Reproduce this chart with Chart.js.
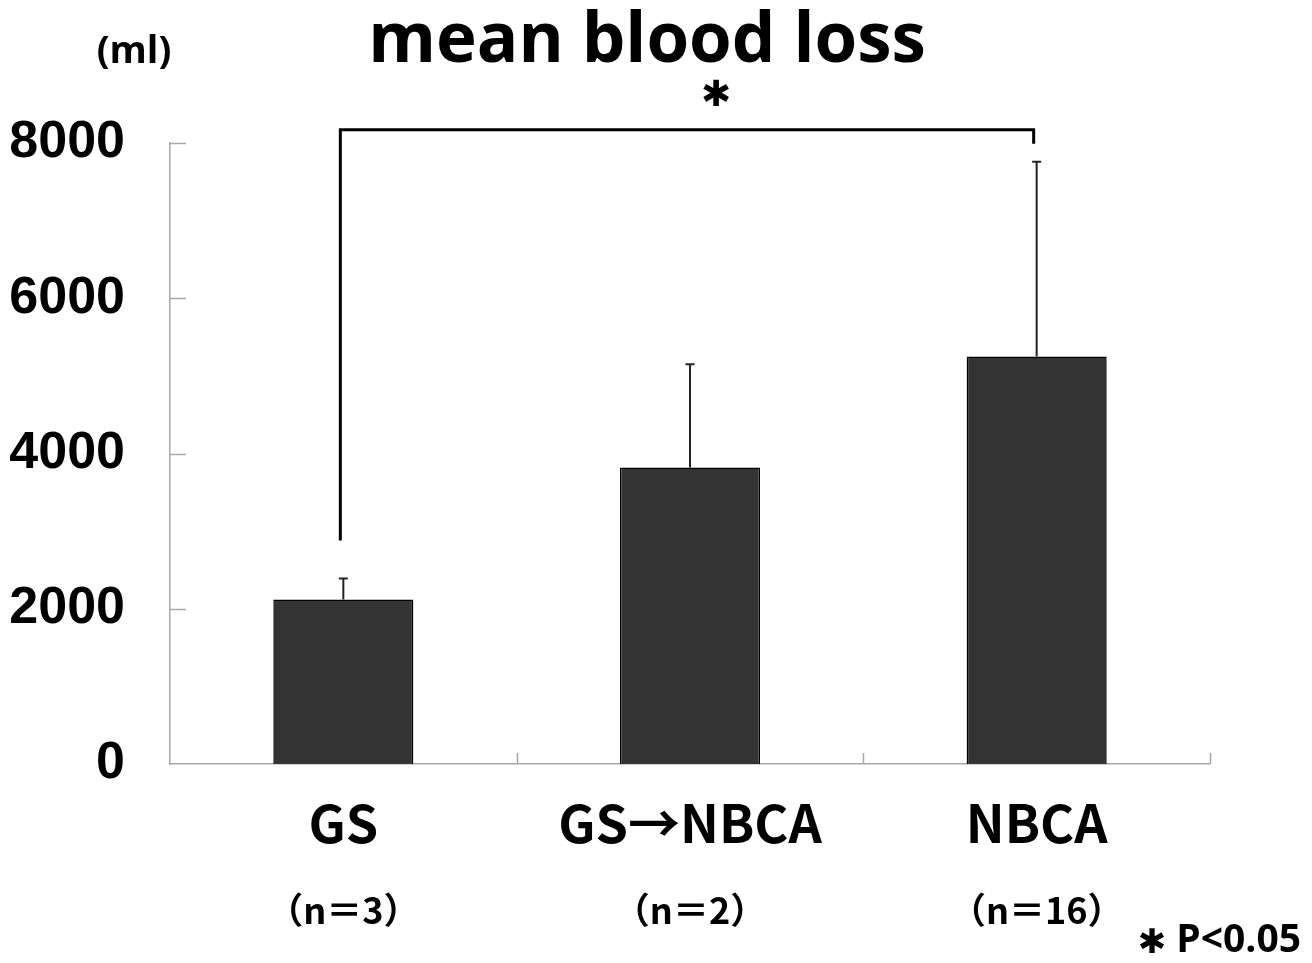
<!DOCTYPE html>
<html>
<head>
<meta charset="utf-8">
<script src="https://cdn.jsdelivr.net/npm/chart.js@4"></script>
<style>
  html, body { margin: 0; padding: 0; background: #fff; }
  #wrap { width: 1312px; height: 963px; position: relative; }
</style>
</head>
<body>
<div id="wrap"><canvas id="chart"></canvas></div>
<script>
'use strict';

// chart data
var categories = [ 'GS', 'GS→NBCA', 'NBCA' ];
var groupSizes = [ '（n＝3）', '（n＝2）', '（n＝16）' ];
var meanLoss = [ 2120, 3820, 5250 ];
var errorUp = [ 270, 1330, 2510 ];
var yTicks = [ 0, 2000, 4000, 6000, 8000 ];
// significance bracket: [from index, to index, top value, left end, right end]
var bracket = [ 0, 2, 8170, 2880, 7990 ];

var CJK = '"Noto Sans CJK JP", "Noto Sans", sans-serif';
var OPEN = '"Open Sans", "Noto Sans", sans-serif';

var extrasPlugin = {
	id: 'extras',
	afterDraw: function ( chart ) {
		var ctx = chart.ctx;
		var x = chart.scales.x;
		var y = chart.scales.y;
		var area = chart.chartArea;
		var i;

		ctx.save();

		// inward y ticks
		ctx.strokeStyle = '#a8a8a8';
		ctx.lineWidth = 1.5;
		yTicks.forEach( function ( v ) {
			if ( v === 0 ) {
				return;
			}
			var py = Math.round( y.getPixelForValue( v ) ) + 0.5;
			ctx.beginPath();
			ctx.moveTo( area.left, py );
			ctx.lineTo( area.left + 16, py );
			ctx.stroke();
		} );

		// category boundary ticks on the x axis
		var step = ( area.right - area.left ) / categories.length;
		for ( i = 1; i <= categories.length; i++ ) {
			var px = Math.round( area.left + step * i ) + 0.5;
			ctx.beginPath();
			ctx.moveTo( px, area.bottom );
			ctx.lineTo( px, area.bottom - 11 );
			ctx.stroke();
		}

		// error bars (upper only)
		ctx.strokeStyle = '#222';
		ctx.lineWidth = 2;
		for ( i = 0; i < meanLoss.length; i++ ) {
			var cx = x.getPixelForValue( i );
			var top = y.getPixelForValue( meanLoss[i] + errorUp[i] );
			var base = y.getPixelForValue( meanLoss[i] );
			ctx.beginPath();
			ctx.moveTo( cx, base );
			ctx.lineTo( cx, top );
			ctx.moveTo( cx - 4.5, top );
			ctx.lineTo( cx + 4.5, top );
			ctx.stroke();
		}

		// significance bracket
		var bx1 = x.getPixelForValue( bracket[0] ) - 3;
		var bx2 = x.getPixelForValue( bracket[1] ) - 3;
		var by = y.getPixelForValue( bracket[2] );
		ctx.strokeStyle = '#000';
		ctx.lineWidth = 3;
		ctx.beginPath();
		ctx.moveTo( bx1, y.getPixelForValue( bracket[3] ) );
		ctx.lineTo( bx1, by );
		ctx.lineTo( bx2, by );
		ctx.lineTo( bx2, y.getPixelForValue( bracket[4] ) );
		ctx.stroke();

		ctx.fillStyle = '#000';
		ctx.textAlign = 'center';
		ctx.textBaseline = 'middle';
		ctx.font = 'bold 36px "DejaVu Sans", sans-serif';
		ctx.fillText( '✱', 716, by - 33 );

		// title and unit
		ctx.font = 'bold 69px ' + OPEN;
		ctx.fillText( 'mean blood loss', 647, 42 );
		ctx.font = 'bold 38px ' + OPEN;
		ctx.fillText( '(ml)', 134, 52 );

		// group sizes under the category names
		ctx.font = 'bold 36px ' + CJK;
		for ( i = 0; i < groupSizes.length; i++ ) {
			ctx.fillText( groupSizes[i], x.getPixelForValue( i ), 910 );
		}

		// footnote
		ctx.font = 'bold 34px "DejaVu Sans", sans-serif';
		ctx.fillText( '✱', 1152, 944 );
		ctx.textAlign = 'right';
		ctx.font = 'bold 39px ' + OPEN;
		ctx.fillText( 'P<0.05', 1301, 941 );

		ctx.restore();
	},
};

new Chart( document.getElementById( 'chart' ), {
	type: 'bar',
	data: {
		labels: categories,
		datasets: [
			{
				data: meanLoss,
				backgroundColor: '#333333',
				borderColor: '#000',
				borderWidth: 1.5,
				categoryPercentage: 1,
				barPercentage: 0.404,
			},
		],
	},
	options: {
		responsive: true,
		maintainAspectRatio: false,
		animation: false,
		layout: {
			padding: { top: 143, right: 102, left: 0, bottom: 0 },
		},
		plugins: {
			legend: { display: false },
			tooltip: { enabled: false },
		},
		scales: {
			x: {
				grid: { display: false, drawTicks: false },
				border: { display: true, color: '#a8a8a8', width: 1.5 },
				ticks: {
					color: '#000',
					padding: 28,
					maxRotation: 0,
					font: { family: CJK, size: 52, weight: 'bold' },
				},
				afterFit: function ( scale ) {
					scale.height = 199;
				},
			},
			y: {
				min: 0,
				max: 8000,
				afterBuildTicks: function ( scale ) {
					scale.ticks = yTicks.map( function ( v ) {
						return { value: v };
					} );
				},
				grid: { display: false, drawTicks: false },
				border: { display: true, color: '#a8a8a8', width: 1.5 },
				ticks: {
					color: '#000',
					padding: 45,
					font: { family: '"Liberation Sans", Arial, sans-serif', size: 52, weight: 'bold' },
					callback: function ( value ) {
						return String( value );
					},
				},
				afterFit: function ( scale ) {
					scale.width = 170;
				},
			},
		},
	},
	plugins: [ extrasPlugin ],
} );
</script>
</body>
</html>
